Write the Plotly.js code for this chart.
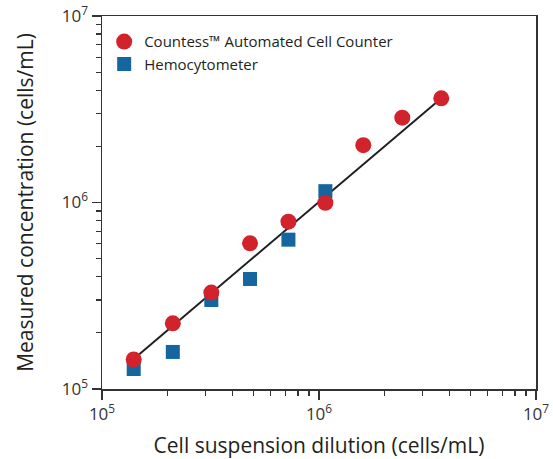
<!DOCTYPE html>
<html>
<head>
<meta charset="utf-8">
<script src="https://cdn.plot.ly/plotly-3.0.1.min.js"></script>
<style>body{margin:0;background:#fff}#chart{width:553px;height:459px}</style>
</head>
<body>
<div id="chart"></div>
<script>
// Data
const dilution = [1.40e5, 2.12e5, 3.19e5, 4.81e5, 7.23e5, 1.07e6, 1.60e6, 2.42e6, 3.66e6];
const countess = [1.44e5, 2.25e5, 3.29e5, 6.04e5, 7.89e5, 9.97e5, 2.03e6, 2.85e6, 3.62e6];
const hemoX = [1.40e5, 2.12e5, 3.19e5, 4.81e5, 7.23e5, 1.07e6];
const hemocytometer = [1.28e5, 1.58e5, 3.00e5, 3.89e5, 6.32e5, 1.15e6];
const fitX = [1.40e5, 3.66e6];
const fitY = [1.45e5, 3.62e6];
const tickVals = [1e5, 1e6, 1e7];
const tickText = ['10<sup>5</sup>', '10<sup>6</sup>', '10<sup>7</sup>'];

const minorVals = [];
for (let d = 1e5; d < 1e7; d *= 10) for (let k = 2; k <= 9; k++) minorVals.push(d * k);

const axisCol = '#333333';
const font = 'Open Sans, sans-serif';

const traces = [
  {x: fitX, y: fitY, mode: 'lines', line: {color: '#231f20', width: 2}, showlegend: false, hoverinfo: 'skip'},
  {x: hemoX, y: hemocytometer, mode: 'markers', name: 'Hemocytometer',
   marker: {symbol: 'square', size: 14, color: '#15659f'}},
  {x: dilution, y: countess, mode: 'markers', name: 'Countess™ Automated Cell Counter',
   marker: {symbol: 'circle', size: 16, color: '#d2222b'}}
];

const axisBase = {
  type: 'log', showgrid: false, zeroline: false,
  showline: true, linecolor: axisCol, linewidth: 1.5, mirror: true,
  ticks: 'outside', ticklen: 9, tickwidth: 1.2, tickcolor: axisCol,
  tickmode: 'array', tickvals: tickVals, ticktext: tickText,
  tickfont: {family: font, size: 17, color: '#333'},
  minor: {tickmode: 'array', tickvals: minorVals, ticks: 'outside', ticklen: 5, tickwidth: 1.2, tickcolor: axisCol, showgrid: false}
};

const layout = {
  width: 553, height: 459,
  margin: {l: 102, r: 17, t: 16, b: 70},
  paper_bgcolor: '#fff', plot_bgcolor: '#fff',
  showlegend: true,
  legend: {x: 0.005, y: 0.975, xanchor: 'left', yanchor: 'top', traceorder: 'reversed',
           font: {family: font, size: 15, color: '#231f20'}, bgcolor: 'rgba(0,0,0,0)', tracegroupgap: 0},
  xaxis: Object.assign({}, axisBase, {range: [5, 7],
    title: {text: 'Cell suspension dilution (cells/mL)', font: {family: font, size: 21, color: '#231f20'}, standoff: 14}}),
  yaxis: Object.assign({}, axisBase, {range: [5, 7],
    title: {text: 'Measured concentration (cells/mL)', font: {family: font, size: 21, color: '#231f20'}, standoff: 22}})
};

Plotly.newPlot('chart', traces, layout, {displayModeBar: false, staticPlot: true});
</script>
</body>
</html>
